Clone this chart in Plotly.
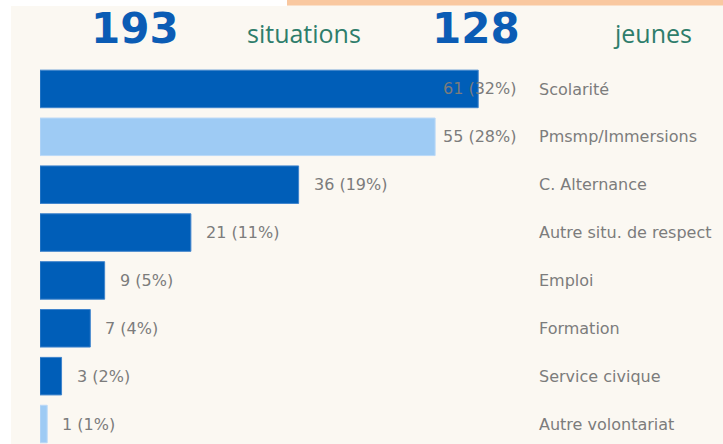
import plotly.graph_objects as go

categories = ["Scolarité", "Pmsmp/Immersions", "C. Alternance", "Autre situ. de respect",
              "Emploi", "Formation", "Service civique", "Autre volontariat"]
values = [61, 55, 36, 21, 9, 7, 3, 1]
percents = [32, 28, 19, 11, 5, 4, 2, 1]
highlight = [False, True, False, False, False, False, False, True]
total_situations = 193
total_jeunes = 128

DARK = "#005EB8"
LIGHT = "#9ECBF4"
GREY = "#7c7c7c"
CREAM = "#FBF8F2"
W, H = 723, 444
ML, MR, MT, MB = 40, 206, 65, 0
XMAX = 66.4

pw = W - ML - MR
ph = H - MT - MB
def px(x):
    return (x - ML) / pw
def py(y):
    return (H - MB - y) / ph

colors = [LIGHT if h else DARK for h in highlight]
lines = ["#BBD9F7" if h else "#3F84CC" for h in highlight]

fig = go.Figure(go.Bar(
    y=categories, x=values, orientation="h",
    marker=dict(color=colors, line=dict(color=lines, width=1)),
    hoverinfo="skip",
))

annotations = []
ppu = pw / XMAX
for c, v, p in zip(categories, values, percents):
    t = f"{v} ({p}%)"
    wlab = len(t) * 9.3
    if v * ppu + 15 + wlab > pw:
        annotations.append(dict(x=XMAX, y=c, xref="x", yref="y", text=t, showarrow=False,
                                xanchor="right", yanchor="middle", xshift=2,
                                font=dict(family="DejaVu Sans", size=16, color=GREY)))
    else:
        annotations.append(dict(x=v, y=c, xref="x", yref="y", text=t, showarrow=False,
                                xanchor="left", yanchor="middle", xshift=13,
                                font=dict(family="DejaVu Sans", size=16, color=GREY)))

header = [
    (str(total_situations), 134.5, 28, dict(family="DejaVu Sans", size=42, color="#0B5CB5", weight="bold")),
    ("situations", 304, 33, dict(family="Open Sans", size=25, color="#2E7D6B")),
    (str(total_jeunes), 475.5, 28, dict(family="DejaVu Sans", size=42, color="#0B5CB5", weight="bold")),
    ("jeunes", 652, 33, dict(family="Open Sans", size=25, color="#2E7D6B")),
]
for t, x, y, f in header:
    annotations.append(dict(x=px(x), y=py(y), xref="paper", yref="paper", text=t,
                            showarrow=False, xanchor="center", yanchor="middle", font=f))

shapes = [
    dict(type="rect", xref="paper", yref="paper", x0=px(0), x1=px(11), y0=py(H), y1=py(0),
         fillcolor="white", line=dict(width=0), layer="below"),
    dict(type="rect", xref="paper", yref="paper", x0=px(0), x1=px(287), y0=py(6), y1=py(0),
         fillcolor="white", line=dict(width=0), layer="below"),
    dict(type="rect", xref="paper", yref="paper", x0=px(287), x1=px(W), y0=py(5.5), y1=py(0),
         fillcolor="#F9C8A0", line=dict(width=0), layer="below"),
]

fig.update_layout(
    width=W, height=H,
    margin=dict(l=ML, r=MR, t=MT, b=MB),
    paper_bgcolor=CREAM, plot_bgcolor=CREAM,
    bargap=0.216,
    showlegend=False,
    annotations=annotations,
    shapes=shapes,
    xaxis=dict(range=[0, XMAX], visible=False, fixedrange=True),
    yaxis=dict(autorange=False, range=[7.417, -0.5], side="right", showgrid=False,
               zeroline=False, showline=False, ticks="", ticklabelstandoff=21,
               tickfont=dict(family="DejaVu Sans", size=16, color=GREY),
               categoryorder="array", categoryarray=categories, fixedrange=True),
)

fig.write_html("out.html", config={"displayModeBar": False, "staticPlot": True},
               post_script="document.body.style.margin='0';document.body.style.overflow='hidden';")
